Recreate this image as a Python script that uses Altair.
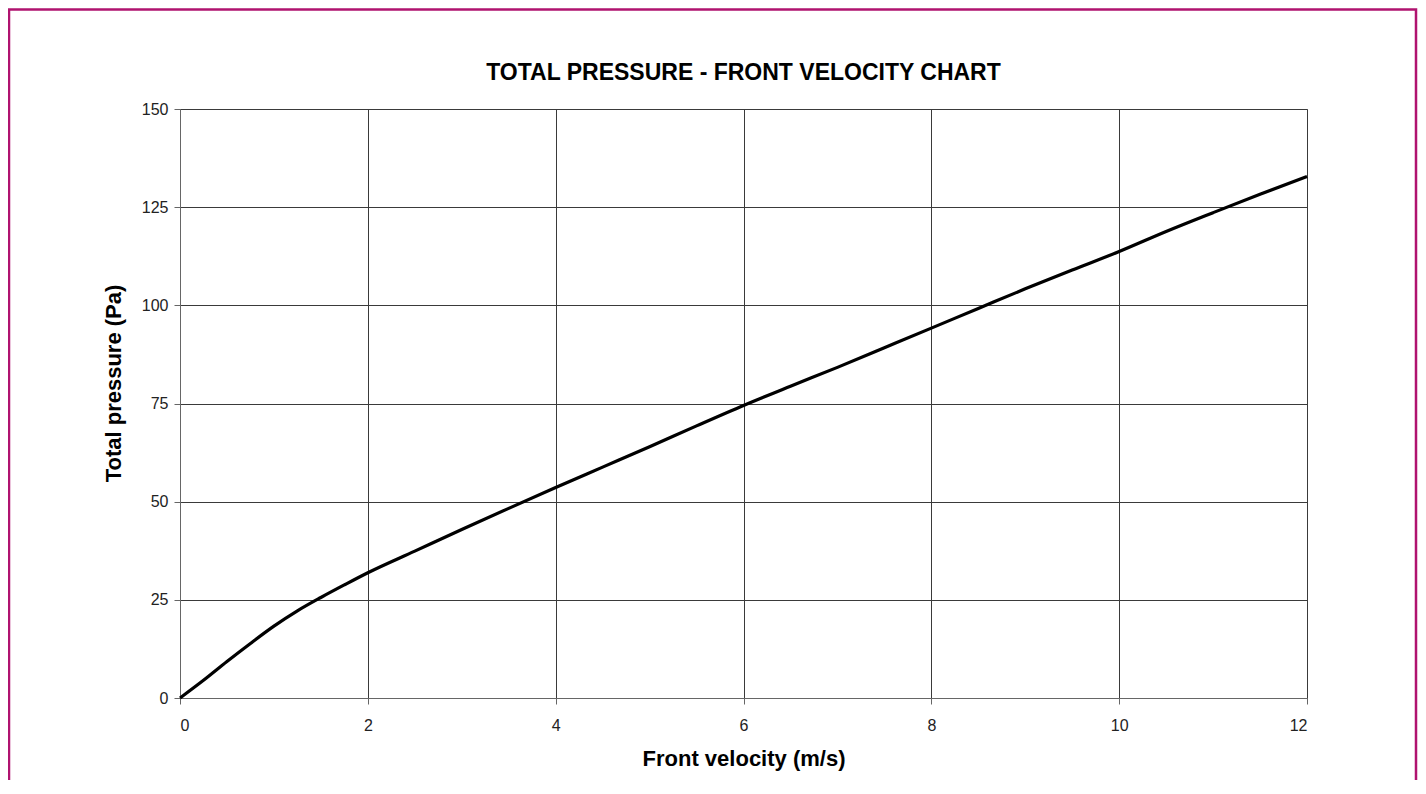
import altair as alt
import pandas as pd

# Data
velocity = [0.0, 0.25, 0.5, 0.75, 1.0, 1.25, 1.5, 1.75, 2.0, 2.5, 3.0, 3.5, 4.0,
            4.5, 5.0, 5.5, 6.0, 6.5, 7.0, 7.5, 8.0, 8.5, 9.0, 9.5, 10.0, 10.5,
            11.0, 11.5, 12.0]
pressure = [0.0, 4.5, 9.3, 13.9, 18.3, 22.2, 25.6, 28.8, 31.9, 37.4, 42.9, 48.3,
            53.6, 58.8, 64.0, 69.3, 74.5, 79.4, 84.2, 89.2, 94.2, 99.2, 104.2,
            109.0, 113.7, 118.8, 123.6, 128.3, 132.8]
x_ticks = [0, 2, 4, 6, 8, 10, 12]
y_ticks = [0, 25, 50, 75, 100, 125, 150]

FONT = "Liberation Sans"

df = pd.DataFrame({"v": velocity, "p": pressure})

frame = alt.Chart(pd.DataFrame({"a": [0]})).mark_rect(
    filled=False, stroke="#b0136f", strokeWidth=2.5
).encode(
    x=alt.value(-171), x2=alt.value(1236), y=alt.value(-99.5), y2=alt.value(720)
)

line = alt.Chart(df).mark_line(
    color="black", strokeWidth=3.2, interpolate="monotone"
).encode(
    x=alt.X(
        "v:Q",
        scale=alt.Scale(domain=[0, 12], nice=False, zero=False),
        axis=alt.Axis(values=x_ticks, title="Front velocity (m/s)", format="d",
                      labelPadding=13, titlePadding=15),
    ),
    y=alt.Y(
        "p:Q",
        scale=alt.Scale(domain=[0, 150], nice=False),
        axis=alt.Axis(values=y_ticks, title="Total pressure (Pa)", format="d",
                      labelPadding=6, titlePadding=16, titleY=274),
    ),
)

chart = alt.layer(frame, line).properties(
    width=1127,
    height=589,
    padding={"left": 172, "top": 101, "right": 111, "bottom": 82},
    autosize=alt.AutoSizeParams(type="none"),
    background="white",
    title=alt.TitleParams(
        text="TOTAL PRESSURE - FRONT VELOCITY CHART",
        font=FONT, fontSize=23, fontWeight="bold", color="black",
        anchor="middle", offset=-77,
    ),
).configure_view(
    stroke="#999999", strokeWidth=1
).configure_axis(
    grid=True, gridColor="#3a3a3a", gridWidth=1, gridOpacity=1,
    domainColor="#666666", domainWidth=1,
    tickColor="#666666", tickSize=6, tickWidth=1,
    labelFont=FONT, labelFontSize=16, labelColor="#222222",
    titleFont=FONT, titleFontSize=22, titleFontWeight="bold", titleColor="black",
)

chart.save("out.html", embed_options={"renderer": "svg", "actions": False})
